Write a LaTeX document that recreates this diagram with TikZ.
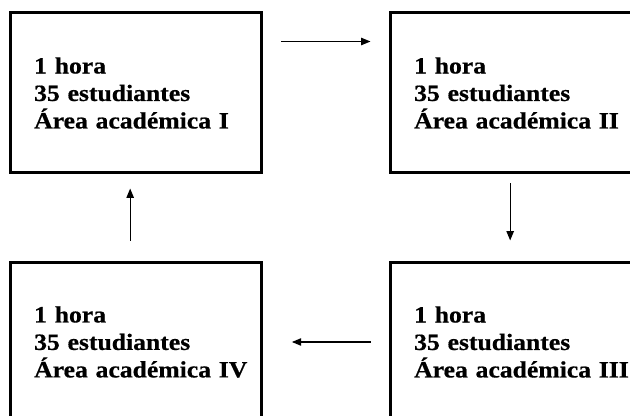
\documentclass[tikz,border=0pt]{standalone}
\usepackage{fontspec}
\setmainfont{Liberation Serif}[FakeStretch=1.1,BoldFeatures={FakeBold=0.6}]
\usetikzlibrary{arrows.meta, positioning}
\newcommand{\areatext}[1]{1 hora\\35 estudiantes\\\mbox{Área académica #1}}

\begin{document}
\begin{tikzpicture}[x=0.75pt,y=-0.75pt,on grid,>={Triangle[length=7pt,width=5.5pt]},
    every node/.style={font=\fontsize{17.5}{20.6}\selectfont\bfseries},
    area/.style={draw,line width=2.25pt,minimum width=188.25pt,minimum height=120pt,
      text width=152pt,align=left,inner xsep=0pt},
    flow/.style={->,line width=1pt}]
  \clip (0,0) rectangle (630,416);
  \node[area] (area1) at (135.5,93) {\areatext{I}};
  \node[area] (area2) [right=285pt of area1] {\areatext{II}};
  \node[area] (area3) [below=186.75pt of area2] {\areatext{III}};
  \node[area] (area4) [left=285pt of area3] {\areatext{IV}};
  % cycle I -> II -> III -> IV -> I
  \draw[flow,shorten <=14pt,shorten >=13.5pt] ([yshift=-22.5pt]area1.north east) -- ([yshift=-22.5pt]area2.north west);
  \draw[flow,shorten <=6.75pt,shorten >=15pt] ([xshift=-4pt]area2.south) -- ([xshift=-4pt]area3.north);
  \draw[flow,shorten <=13.5pt,shorten >=22pt] (area3.west) -- (area4.east);
  \draw[flow,shorten <=15pt,shorten >=10.5pt] ([xshift=-4pt]area4.north) -- ([xshift=-4pt]area1.south);
\end{tikzpicture}
\end{document}
